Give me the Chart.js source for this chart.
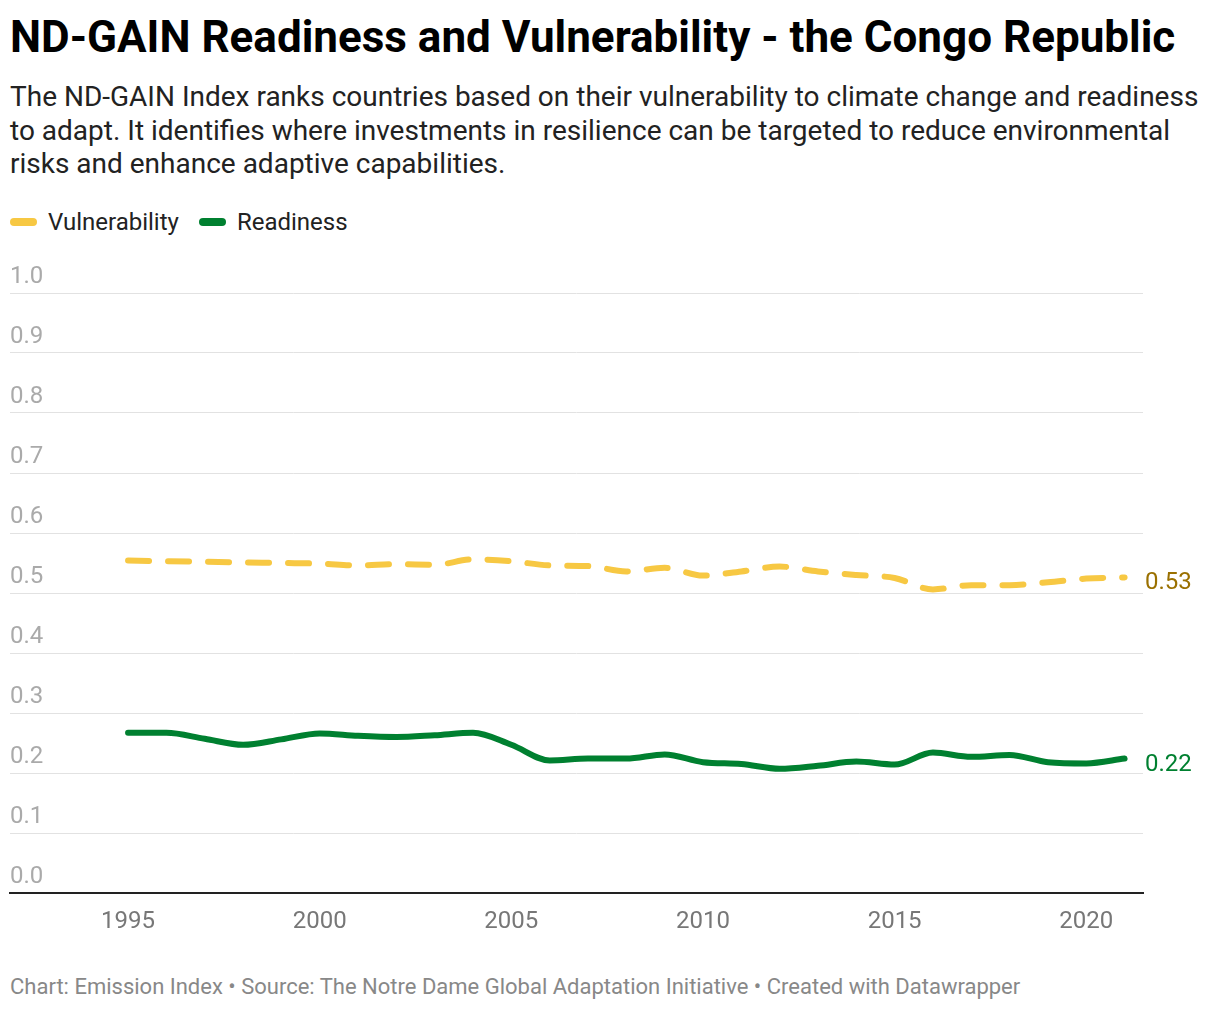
<!DOCTYPE html>
<html>
<head>
<meta charset="utf-8">
<script src="https://cdn.jsdelivr.net/npm/chart.js@4"></script>
<style>
  body { margin: 0; background: #fff; font-family: Roboto, sans-serif; }
  #wrap { position: relative; width: 1220px; height: 1010px; }
  #title { position: absolute; left: 10px; top: 15px; font-size: 44px; line-height: 44px; font-weight: 700; color: #000; white-space: nowrap; }
  #sub { position: absolute; left: 10px; top: 80px; width: 1205px; font-size: 28px; line-height: 33.6px; color: #222; }
  #legend { position: absolute; left: 10px; top: 210px; font-size: 24px; line-height: 24px; color: #222; display: flex; }
  #legend span.key { display: inline-block; width: 27px; height: 8px; border-radius: 4px; margin-right: 11px; vertical-align: middle; position: relative; top: -2px; }
  #legend .item { margin-right: 20px; }
  #footer { position: absolute; left: 10px; top: 976px; font-size: 22px; line-height: 22px; color: #888; white-space: nowrap; }
  #chartBox { position: absolute; left: 0; top: 250px; width: 1220px; height: 700px; }
</style>
</head>
<body>
<div id="wrap">
  <div id="title">ND-GAIN Readiness and Vulnerability - the Congo Republic</div>
  <div id="sub">The ND-GAIN Index ranks countries based on their vulnerability to climate change and readiness to adapt. It identifies where investments in resilience can be targeted to reduce environmental risks and enhance adaptive capabilities.</div>
  <div id="legend">
    <div class="item"><span class="key" style="background:#f7c843"></span>Vulnerability</div>
    <div class="item"><span class="key" style="background:#008030"></span>Readiness</div>
  </div>
  <div id="chartBox"><canvas id="line-chart"></canvas></div>
  <div id="footer">Chart: Emission Index • Source: The Notre Dame Global Adaptation Initiative • Created with Datawrapper</div>
</div>
<script>
// anos e valores
const years = [1995, 1996, 1997, 1998, 1999, 2000, 2001, 2002, 2003, 2004, 2005, 2006, 2007,
               2008, 2009, 2010, 2011, 2012, 2013, 2014, 2015, 2016, 2017, 2018, 2019, 2020, 2021];
const vulnerability = [0.554, 0.553, 0.552, 0.551, 0.550, 0.549, 0.546, 0.548, 0.547, 0.556, 0.553, 0.546, 0.545,
                       0.536, 0.542, 0.529, 0.536, 0.544, 0.536, 0.530, 0.525, 0.506, 0.513, 0.513, 0.518, 0.524, 0.526];
const readiness = [0.267, 0.267, 0.257, 0.247, 0.256, 0.266, 0.262, 0.260, 0.263, 0.267, 0.247, 0.221, 0.224,
                   0.224, 0.231, 0.218, 0.215, 0.207, 0.212, 0.219, 0.214, 0.234, 0.227, 0.230, 0.218, 0.216, 0.224];
const xTicks = [1995, 2000, 2005, 2010, 2015, 2020];
const yTicks = [0, 0.1, 0.2, 0.3, 0.4, 0.5, 0.6, 0.7, 0.8, 0.9, 1.0];

const vulnColor = '#f7c843';
const readyColor = '#008030';

// rotulo com o ultimo valor na ponta de cada linha
const endLabels = {
   id: 'endLabels',
   afterDatasetsDraw(chart) {
      const ctx = chart.ctx;
      const labelColors = ['#9a7000', '#008030'];
      ctx.save();
      ctx.font = '24px Roboto';
      ctx.textAlign = 'left';
      ctx.textBaseline = 'middle';
      chart.data.datasets.forEach((ds, i) => {
         const meta = chart.getDatasetMeta(i);
         const pt = meta.data[meta.data.length - 1];
         ctx.fillStyle = labelColors[i];
         ctx.fillText(ds.data[ds.data.length - 1].y.toFixed(2), chart.chartArea.right + 2, pt.y + 6);
      });
      ctx.restore();
   }
};

const ctx1 = document.getElementById('line-chart');
new Chart(ctx1, {
   type: 'line',
   data: {
      datasets: [{
         label: 'Vulnerability',
         data: years.map((y, i) => ({ x: y, y: vulnerability[i] })),
         borderColor: vulnColor,
         borderWidth: 6,
         borderDash: [21, 19],
         borderCapStyle: 'round',
         borderJoinStyle: 'round',
         cubicInterpolationMode: 'monotone',
         pointRadius: 0,
         fill: false
      }, {
         label: 'Readiness',
         data: years.map((y, i) => ({ x: y, y: readiness[i] })),
         borderColor: readyColor,
         borderWidth: 6,
         borderCapStyle: 'round',
         borderJoinStyle: 'round',
         cubicInterpolationMode: 'monotone',
         pointRadius: 0,
         fill: false
      }]
   },
   options: {
      responsive: true,
      maintainAspectRatio: false,
      animation: false,
      layout: { padding: { left: 10, right: 77, top: 43, bottom: 0 } },
      plugins: {
         legend: { display: false },
         tooltip: { enabled: false }
      },
      scales: {
         x: {
            type: 'linear',
            min: 1991.92,
            max: 2021.48,
            afterBuildTicks: s => { s.ticks = xTicks.map(v => ({ value: v })); },
            afterFit: s => { s.height = 57; },
            grid: { display: false, drawTicks: false },
            border: { display: true, color: '#222', width: 2 },
            ticks: {
               color: '#777',
               font: { family: 'Roboto', size: 24 },
               padding: 15,
               maxRotation: 0,
               callback: v => String(v)
            }
         },
         y: {
            min: 0,
            max: 1,
            afterBuildTicks: s => { s.ticks = yTicks.map(v => ({ value: v })); },
            afterFit: s => { s.width = 0; },
            grid: { color: '#e2e2e2', lineWidth: 1, drawTicks: false },
            border: { display: false },
            ticks: {
               mirror: true,
               padding: 0,
               labelOffset: -16,
               color: '#aaa',
               font: { family: 'Roboto', size: 24 },
               callback: v => v.toFixed(1)
            }
         }
      }
   },
   plugins: [endLabels]
});
</script>
</body>
</html>
